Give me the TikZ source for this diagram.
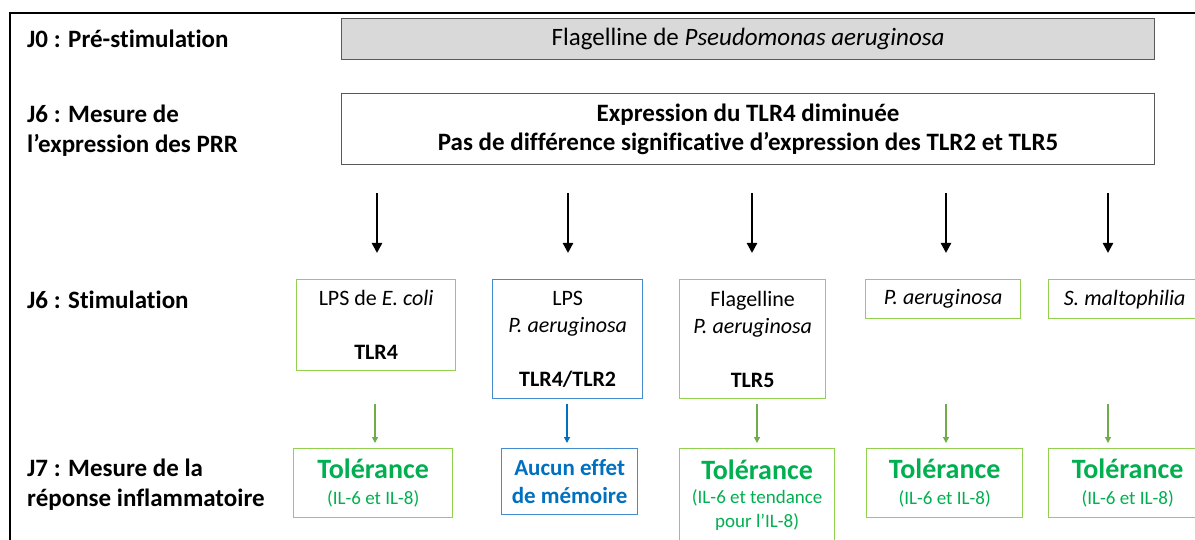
\documentclass[tikz,border=0pt]{standalone}
\usepackage{fontspec}
\setmainfont{Carlito}[Ligatures=NoCommon]
\usetikzlibrary{arrows.meta, positioning}
\definecolor{FrameGray}{RGB}{89, 89, 89}
\definecolor{FillGray}{RGB}{217, 217, 217}
\definecolor{BoxGreen}{RGB}{146, 208, 80}
\definecolor{ArrowGreen}{RGB}{112, 173, 71}
\definecolor{TextGreen}{RGB}{0, 176, 80}
\definecolor{BoxBlue}{RGB}{68, 140, 208}
\definecolor{TextBlue}{RGB}{0, 112, 192}

\tikzset{
  daylabel/.style={anchor=west, align=left, inner sep=0pt, font=\bfseries\fontsize{25}{30}\selectfont},
  topbox/.style={draw=FrameGray, line width=1.2pt, anchor=north west, align=center, inner sep=0pt},
  stimbox/.style={draw=BoxGreen, line width=1.3pt, anchor=north west, align=center, inner sep=0pt, font=\fontsize{22}{27}\selectfont},
  respbox/.style={draw=BoxGreen, line width=1.3pt, anchor=north west, align=center, inner sep=0pt, text=TextGreen, font=\fontsize{19}{26}\selectfont},
  downarrow/.style={line width=2.4pt, -{Triangle[width=10pt,length=10pt]}},
  smallarrow/.style={line width=1.3pt, -{Triangle[width=6pt,length=6pt]}}
}
\newcommand{\tol}{{\fontsize{28}{28}\selectfont\bfseries Tolérance}}

\begin{document}
\begin{tikzpicture}[x=1pt,y=-1pt]
  \path[use as bounding box] (0,0) rectangle (1195,540);
  \fill[white] (0,0) rectangle (1195,540);
  \draw[line width=1.8pt] (10,560) -- (10,13) -- (1215,13);

  % day labels
  \node[daylabel] (j0) at (27,39) {J0 : Pré-stimulation};
  \node[daylabel] (j6a) at (27,131) {J6 : Mesure de\\l’expression des PRR};
  \node[daylabel] (j6b) at (27,300) {J6 : Stimulation};
  \node[daylabel] (j7) at (27,485) {J7 : Mesure de la\\réponse inflammatoire};

  % top boxes
  \node[topbox, fill=FillGray, minimum width=813pt, minimum height=41pt,
        font=\fontsize{25}{29}\selectfont] (flag) at (341,18)
        {Flagelline de \textit{Pseudomonas aeruginosa}};
  \node[topbox, fill=white, minimum width=813pt, minimum height=71pt,
        font=\bfseries\fontsize{25}{29}\selectfont] (prr) at (341,93)
        {Expression du TLR4 diminuée\\Pas de différence significative d’expression des TLR2 et TLR5};

  % stimulations
  \node[stimbox, minimum width=159pt, minimum height=91pt] (s1) at (296,279)
        {LPS de \textit{E. coli}\\[27pt]\textbf{TLR4}};
  \node[stimbox, draw=BoxBlue, minimum width=150pt, minimum height=119pt] (s2) at (492,279)
        {LPS\\\textit{P. aeruginosa}\\[27pt]\textbf{TLR4/TLR2}};
  \node[stimbox, minimum width=146pt, minimum height=119pt] (s3) at (679,279)
        {Flagelline\\\textit{P. aeruginosa}\\[27pt]\textbf{TLR5}};
  \node[stimbox, minimum width=155pt, minimum height=39pt] (s4) at (865,279)
        {\textit{P. aeruginosa}};
  \node[stimbox, minimum width=152pt, minimum height=39pt] (s5) at (1048,279)
        {\textit{S. maltophilia}};

  % responses
  \node[respbox, minimum width=159pt, minimum height=69pt] (r1) at (293,448)
        {\tol\\(IL-6 et IL-8)};
  \node[respbox, draw=BoxBlue, text=TextBlue, minimum width=136pt, minimum height=66pt,
        font=\bfseries\fontsize{23}{28}\selectfont] (r2) at (501,448)
        {Aucun effet\\de mémoire};
  \node[respbox, minimum width=155pt, minimum height=94pt, font=\fontsize{19}{24}\selectfont] (r3) at (679,448)
        {\tol\\(IL-6 et tendance\\pour l’IL-8)};
  \node[respbox, minimum width=156pt, minimum height=69pt] (r4) at (866,448)
        {\tol\\(IL-6 et IL-8)};
  \node[respbox, minimum width=158pt, minimum height=69pt] (r5) at (1048,448)
        {\tol\\(IL-6 et IL-8)};

  % arrows
  \coordinate (low) at (0,404);
  \foreach \i/\x/\xx/\col in {1/377/375/ArrowGreen, 2/568/567/TextBlue, 3/752/757/ArrowGreen,
                              4/946/946/ArrowGreen, 5/1108/1108/ArrowGreen}{
    \coordinate (c\i) at (\x,0);
    \coordinate (d\i) at (\xx,0);
    \draw[downarrow, shorten <=28pt, shorten >=26pt] (prr.south -| c\i) -- (s\i.north -| c\i);
    \draw[smallarrow, \col, shorten >=5pt] (low -| d\i) -- (r\i.north -| d\i);
  }
\end{tikzpicture}
\end{document}
